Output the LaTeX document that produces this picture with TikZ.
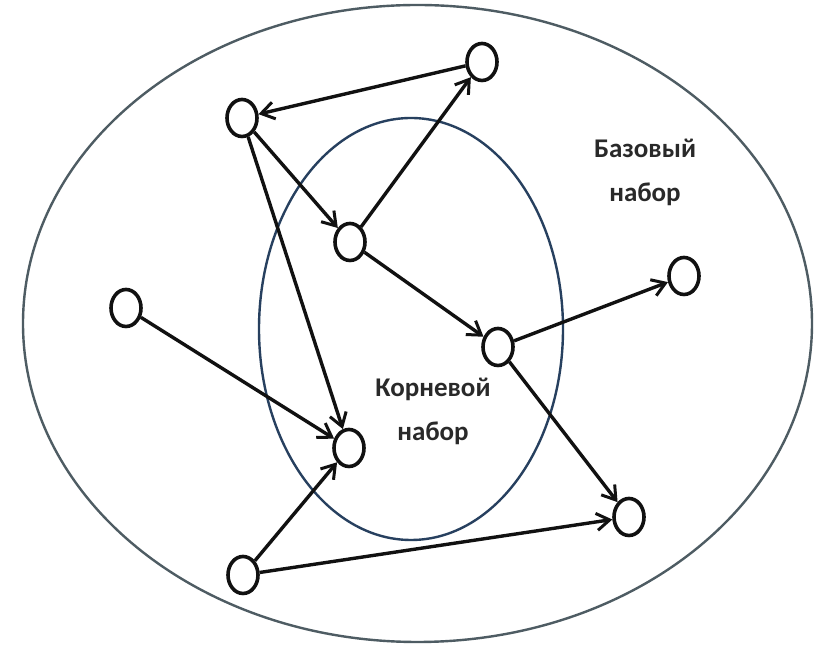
\documentclass[tikz,border=0pt]{standalone}
\usepackage{fontspec}
\setmainfont{Carlito}
\usetikzlibrary{shapes.geometric,arrows.meta}
\definecolor{grline}{HTML}{111111}
\definecolor{gfora}{HTML}{4E5C63}
\definecolor{gdentro}{HTML}{27405F}
\tikzset{
  vert/.style={ellipse,draw=grline,line width=3.6pt,fill=white,minimum width=30pt,minimum height=37pt,inner sep=0pt},
  seta/.style={draw=grline,line width=3.4pt,-{Straight Barb[length=13pt,width=17pt,line width=3pt]}},
  conj/.style={line width=2.4pt},
  rot/.style={font=\bfseries\fontsize{27}{44}\selectfont,text=grline!90,align=center},
}
\begin{document}
\begin{tikzpicture}[x=1pt,y=1pt]
  \useasboundingbox[fill=white] (0,0) rectangle (817,650);
  % conjuntos
  \draw[conj,gfora] (417.5,326.5) ellipse (394.5 and 318.5);
  \draw[conj,gdentro] (411,321) ellipse (152 and 211);
  \node[rot] (base) at (645,478) {Базовый\\набор};
  \node[rot] (raiz) at (433,239) {Корневой\\набор};
  % vertices
  \node[vert] (A) at (242,532) {};
  \node[vert] (B) at (482,588) {};
  \node[vert] (C) at (350,408) {};
  \node[vert] (D) at (126,342) {};
  \node[vert] (E) at (498,303) {};
  \node[vert] (F) at (684,374) {};
  \node[vert] (G) at (349,202) {};
  \node[vert] (H) at (629,133) {};
  \node[vert] (I) at (243,75) {};
  % arcos
  \foreach \a/\b in {B/A,A/C,A/G,C/B,C/E,E/F,E/H,D/G,I/G,I/H}
    \draw[seta] (\a) -- (\b);
\end{tikzpicture}
\end{document}
